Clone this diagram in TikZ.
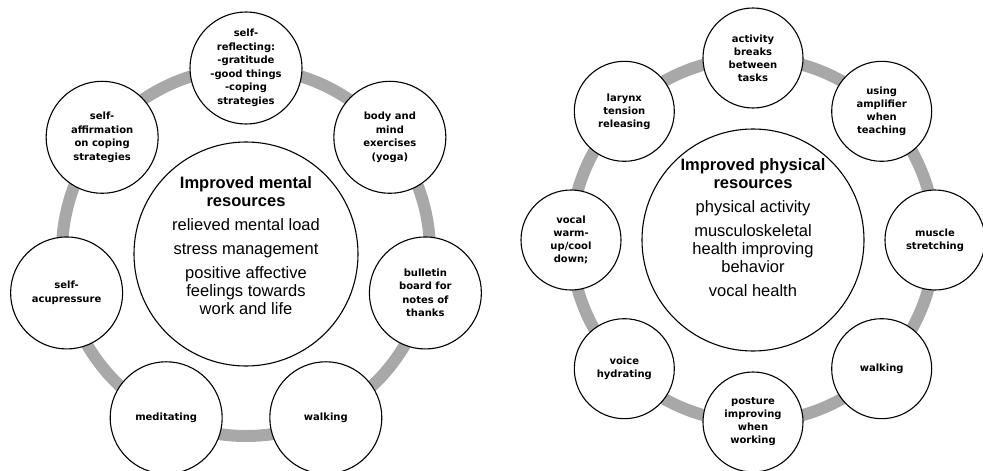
\documentclass[tikz,border=0pt]{standalone}
\usepackage{fontspec}
\setmainfont{Liberation Sans}
\newfontfamily\labelfont{DejaVu Sans}
\definecolor{ringgray}{RGB}{168,168,168}
\begin{document}
\begin{tikzpicture}[x=1pt,y=-1pt,
  ring/.style={draw=ringgray,line width=12pt},
  hub/.style={circle,draw=black,line width=1.1pt,fill=white,inner sep=0pt},
  hubtext/.style={align=center,inner sep=0pt,font=\fontsize{16.5}{18}\selectfont},
  spotL/.style={circle,draw=black,line width=1.1pt,fill=white,inner sep=0pt,
    minimum size=112pt,align=center,font=\labelfont\bfseries\fontsize{10}{13.5}\selectfont},
  spotR/.style={spotL,minimum size=100pt,font=\labelfont\bfseries\fontsize{10}{13}\selectfont}]
\useasboundingbox (0,0) rectangle (983,471);

% ---------- mental resources ----------
\coordinate (L) at (246,252);
\draw[ring] (L) circle (184);
\node[hub,minimum size=224pt] (Lhub) at (246,254) {};
\node[hubtext] (Ltext) at (246,246) {\textbf{Improved mental}\\\textbf{resources}\\[6pt]
  relieved mental load\\[6pt] stress management\\[6pt] positive affective\\feelings towards\\work and life};

\node[spotL] (l1) at ([shift={(-90:184)}]L) {self-\\reflecting:\\-gratitude\\-good things\\-coping\\strategies};
\node[spotL] (l2) at ([shift={(-38.57:184)}]L) {body and\\mind\\exercises\\(yoga)};
\node[spotL] (l3) at ([shift={(12.86:184)}]L) {bulletin\\board for\\notes of\\thanks};
\node[spotL] (l4) at ([shift={(64.29:184)}]L) {walking};
\node[spotL] (l5) at ([shift={(115.71:184)}]L) {meditating};
\node[spotL] (l6) at ([shift={(167.14:184)}]L) {self-\\acupressure};
\node[spotL] (l7) at ([shift={(218.57:184)}]L) {self-\\affirmation\\on coping\\strategies};

% ---------- physical resources ----------
\coordinate (R) at (753,240);
\draw[ring] (R) circle (182);
\node[hub,minimum size=222pt] (Rhub) at (R) {};
\node[hubtext] (Rtext) at (753,228) {\textbf{Improved physical}\\\textbf{resources}\\[6pt]
  physical activity\\[6pt] musculoskeletal\\health improving\\behavior\\[6pt] vocal health};

\node[spotR] (r1) at ([shift={(-90:182)}]R) {activity\\breaks\\between\\tasks};
\node[spotR] (r2) at ([shift={(-45:182)}]R) {using\\amplifier\\when\\teaching};
\node[spotR] (r3) at ([shift={(0:182)}]R) {muscle\\stretching};
\node[spotR] (r4) at ([shift={(45:182)}]R) {walking};
\node[spotR] (r5) at ([shift={(90:182)}]R) {posture\\improving\\when\\working};
\node[spotR] (r6) at ([shift={(135:182)}]R) {voice\\hydrating};
\node[spotR] (r7) at ([shift={(180:182)}]R) {vocal\\warm-\\up/cool\\down;};
\node[spotR] (r8) at ([shift={(225:182)}]R) {larynx\\tension\\releasing};
\end{tikzpicture}
\end{document}
